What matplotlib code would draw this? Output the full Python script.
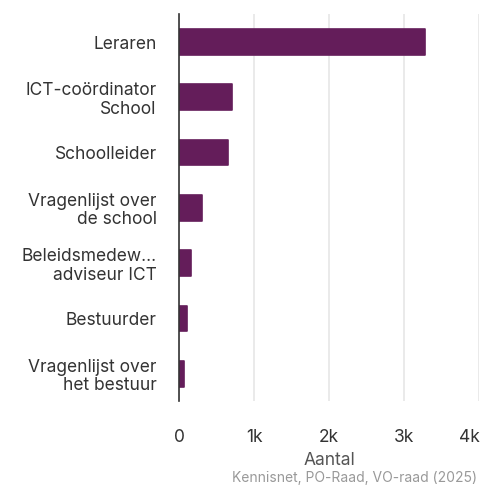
import matplotlib.pyplot as plt

categories = ["Leraren", "ICT-coördinator\nSchool", "Schoolleider",
              "Vragenlijst over\nde school", "Beleidsmedew...\nadviseur ICT",
              "Bestuurder", "Vragenlijst over\nhet bestuur"]
values = [3270, 710, 655, 305, 160, 100, 65]
xticks = [0, 1000, 2000, 3000, 4000]
xtick_labels = ["0", "1k", "2k", "3k", "4k"]

plt.rcParams['font.family'] = ['Inter', 'DejaVu Sans']

fig = plt.figure(figsize=(4.83, 4.86), dpi=100)
ax = fig.add_axes([0.3706, 0.1739, 0.622, 0.7965])

ypos = list(range(len(categories)))
ax.barh(ypos, values, height=0.465, color="#641d5a", edgecolor="#641d5a",
        linewidth=1.2, joinstyle="round", zorder=3)
ax.set_ylim(len(categories) - 0.5, -0.5)
ax.set_xlim(0, 4000)

ax.set_yticks(ypos)
ax.set_yticklabels(categories, fontsize=12.5, color="#333333",
                   linespacing=1.1, ha="right")
ax.set_xticks(xticks)
ax.set_xticklabels(xtick_labels, fontsize=12.5, color="#333333")
ax.get_xticklabels()[-1].set_ha("right")
ax.tick_params(axis="y", length=0, pad=16)
ax.tick_params(axis="x", length=0, pad=20)

ax.grid(axis="x", color="#e6e6e6", linewidth=1.2, zorder=0)
for s in ["top", "right", "bottom"]:
    ax.spines[s].set_visible(False)
ax.spines["left"].set_color("#333333")
ax.spines["left"].set_linewidth(1.2)
ax.spines["left"].set_zorder(4)

ax.set_xlabel("Aantal", fontsize=12.5, color="#555555", labelpad=4)
fig.text(0.988, 0.0165, "Kennisnet, PO-Raad, VO-raad (2025)", fontsize=10,
         color="#999999", ha="right", va="center")

fig.savefig("out.png", dpi=100)
